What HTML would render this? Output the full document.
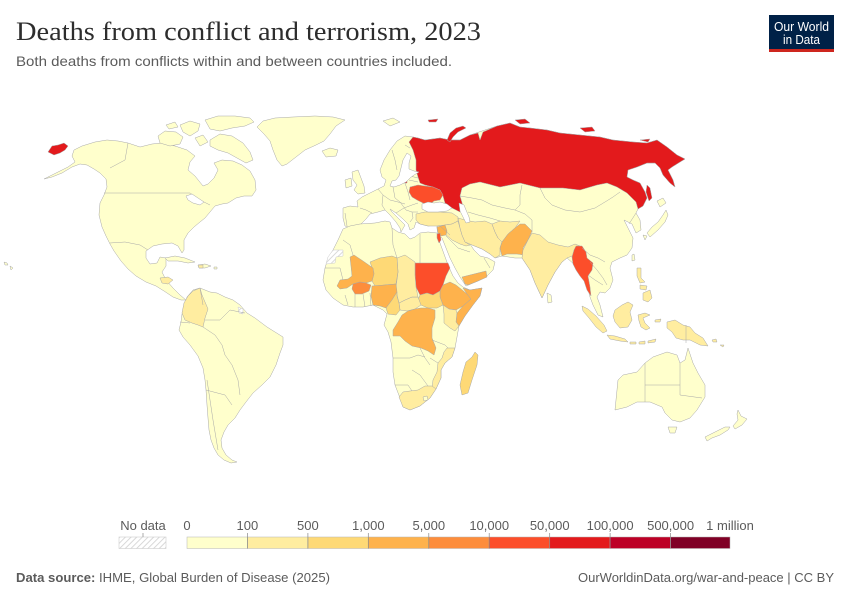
<!DOCTYPE html>
<html><head><meta charset="utf-8"><style>
html,body{margin:0;padding:0;background:#fff;}
body{width:850px;height:600px;overflow:hidden;}
svg{display:block;}
</style></head><body>
<svg width="850" height="600" viewBox="0 0 850 600" xmlns="http://www.w3.org/2000/svg">
<defs>
<pattern id="h" width="4" height="4" patternUnits="userSpaceOnUse" patternTransform="rotate(45)"><rect width="4" height="4" fill="#fff"/><line x1="0" y1="0" x2="0" y2="4" stroke="#cfcfcf" stroke-width="1.6"/></pattern>
</defs>
<rect width="850" height="600" fill="#fff"/>

<!-- Title -->
<text x="16" y="40" font-family="Liberation Serif, serif" font-size="26.5" fill="#2d2d2d" textLength="465" lengthAdjust="spacingAndGlyphs">Deaths from conflict and terrorism, 2023</text>
<text x="16" y="66" font-family="Liberation Sans, sans-serif" font-size="14" fill="#5b5b5b" textLength="436" lengthAdjust="spacingAndGlyphs">Both deaths from conflicts within and between countries included.</text>

<!-- Logo -->
<rect x="769" y="15" width="65" height="35" fill="#002147"/>
<rect x="769" y="49" width="65" height="3" fill="#ce261e"/>
<text x="801.5" y="31" text-anchor="middle" font-family="Liberation Sans, sans-serif" font-size="13" fill="#fff" textLength="55" lengthAdjust="spacingAndGlyphs">Our World</text>
<text x="801.5" y="44" text-anchor="middle" font-family="Liberation Sans, sans-serif" font-size="13" fill="#fff" textLength="37" lengthAdjust="spacingAndGlyphs">in Data</text>

<!-- Base land -->
<g stroke="#a8a8a8" stroke-width="0.5" stroke-linejoin="round" fill="#ffffcc">
<path d="M44,179 L52,175 L60,171 L68,167 L75,162 L72,156 L74,150 L82,146 L95,142 L107,140 L118,141 L128,143 L140,147 L152,144 L162,143 L175,146 L187,150 L195,156 L190,162 L188,170 L195,176 L203,186 L208,184 L214,178 L218,170 L214,163 L222,160 L233,161 L242,165 L250,171 L255,180 L256,190 L252,196 L244,196 L236,198 L228,203 L222,204 L215,206 L210,212 L205,218 L200,222 L194,227 L188,233 L184,240 L184,250 L182,253 L178,246 L172,243 L162,244 L153,246 L146,251 L146,258 L150,264 L157,263 L160,257 L166,258 L166,266 L162,272 L166,280 L173,288 L180,295 L186,300 L181,300 L173,297 L164,291 L156,286 L146,282 L136,276 L128,269 L121,261 L114,251 L110,244 L106,236 L102,227 L99,215 L100,203 L104,195 L107,187 L106,179 L100,173 L94,169 L87,165 L80,164 L72,167 L62,173 L52,177 Z"/>
<path d="M158,136 L165,131 L176,132 L183,137 L180,144 L170,146 L160,143 Z"/>
<path d="M180,125 L190,121 L200,124 L198,131 L190,136 L183,132 Z"/>
<path d="M205,120 L218,116 L235,116 L250,118 L254,122 L245,126 L232,128 L220,131 L210,129 Z"/>
<path d="M210,140 L220,134 L232,136 L243,143 L250,152 L253,160 L246,163 L237,158 L228,153 L218,150 L210,146 Z"/>
<path d="M195,138 L203,135 L208,142 L200,146 Z"/>
<path d="M166,125 L175,122 L178,127 L169,129 Z"/>
<path d="M257,127 L263,121 L275,118 L293,117 L315,116 L333,117 L345,120 L336,126 L330,134 L324,141 L316,145 L305,150 L296,157 L287,164 L282,166 L277,160 L273,150 L270,141 L264,134 Z"/>
<path d="M322,151 L330,148 L338,150 L336,156 L326,157 Z"/>
<path d="M383,121 L393,118 L400,122 L390,126 Z"/>
<path d="M165,258 L175,256 L185,258 L195,262 L188,263 L178,261 L168,261 Z"/>
<path d="M198,265 L205,264 L211,266 L205,268 L199,268 Z"/>
<path d="M214,267 L217,267 L217,269 L214,269 Z"/>
<path d="M4,262 L7,263 L8,265 L5,265 Z M10,266 L13,268 L11,270 Z"/>
<path d="M187,297 L193,290 L200,288 L210,292 L217,293 L225,297 L233,300 L240,305 L247,313 L255,318 L267,327 L283,337 L283,345 L280,353 L276,365 L270,377 L262,385 L253,393 L246,402 L240,410 L235,418 L228,425 L224,432 L221,440 L222,448 L226,455 L232,460 L237,462 L231,463 L224,460 L218,455 L214,448 L211,440 L209,430 L208,418 L207,405 L206,390 L205,380 L203,368 L198,356 L190,345 L183,337 L179,330 L181,322 L182,314 L185,305 Z"/>
<path d="M343,208 L350,206 L358,207 L357,201 L362,197 L370,193 L378,189 L384,186 L386,180 L382,177 L380,170 L384,160 L390,150 L397,141 L405,136 L413,137 L418,138 L425,140 L440,138 L450,140 L460,140 L470,135 L485,130 L497,126 L510,123 L520,127 L530,128 L547,130 L560,133 L580,135 L600,137 L613,140 L633,142 L647,143 L657,140 L667,147 L677,155 L685,159 L680,162 L672,167 L668,170 L673,180 L675,187 L670,183 L663,175 L660,168 L655,163 L647,163 L637,167 L628,170 L627,177 L633,180 L640,183 L645,192 L647,198 L643,206 L638,209 L636,213 L640,220 L641,230 L636,233 L632,224 L628,222 L624,220 L628,228 L633,238 L632,248 L627,255 L620,258 L612,262 L610,268 L613,280 L610,288 L605,293 L600,292 L597,297 L600,305 L603,317 L598,315 L593,305 L590,297 L587,285 L583,275 L575,265 L567,258 L562,262 L555,272 L548,285 L542,298 L535,283 L530,270 L522,258 L515,258 L502,256 L495,258 L490,254 L482,249 L470,244 L474,250 L480,256 L488,258 L495,262 L493,270 L486,277 L478,281 L466,286 L460,277 L455,268 L450,258 L446,248 L442,238 L438,236 L437,228 L437,225 L428,226 L420,224 L416,222 L414,228 L410,230 L408,224 L403,219 L396,213 L390,209 L392,212 L398,218 L405,225 L401,232 L400,228 L396,222 L390,215 L385,210 L378,212 L370,214 L366,219 L360,225 L352,228 L345,226 L343,218 Z"/>
<path d="M352,172 L358,170 L361,178 L364,186 L365,193 L358,194 L354,190 L357,185 L353,180 Z"/>
<path d="M345,180 L351,178 L352,186 L346,188 Z"/>
<path d="M657,201 L663,198 L666,203 L660,207 Z"/>
<path d="M647,233 L652,227 L658,222 L663,215 L666,210 L668,215 L665,222 L658,230 L650,237 Z"/>
<path d="M643,235 L647,236 L645,240 Z"/>
<path d="M632,255 L634,254 L635,260 L632,261 Z"/>
<path d="M547,293 L551,295 L552,302 L548,303 Z"/>
<path d="M343,229 L350,226 L360,224 L375,223 L385,221 L390,222 L392,228 L398,232 L405,234 L410,239 L415,237 L420,233 L428,232 L437,233 L440,243 L444,254 L448,265 L453,276 L458,283 L463,287 L470,290 L482,288 L480,296 L473,305 L465,316 L459,326 L457,337 L455,348 L452,357 L445,363 L441,370 L441,378 L436,389 L430,398 L420,406 L410,410 L403,407 L400,398 L395,385 L393,372 L393,358 L391,342 L388,332 L384,325 L387,314 L383,310 L373,305 L363,307 L353,307 L343,305 L333,298 L326,290 L323,280 L325,268 L328,258 L333,250 L338,240 Z"/>
<path d="M615,410 L617,390 L618,380 L623,375 L637,372 L645,363 L653,357 L667,352 L677,355 L680,363 L685,360 L688,348 L693,363 L698,373 L705,385 L705,397 L697,410 L690,418 L680,422 L672,420 L665,413 L662,407 L650,402 L637,402 L627,407 Z"/>
<path d="M668,427 L677,427 L675,433 L670,433 Z"/>
<path d="M738,410 L741,416 L747,419 L742,425 L735,429 L733,426 L738,420 L737,414 Z"/>
<path d="M730,427 L728,430 L720,435 L712,438 L707,441 L705,437 L715,432 L725,427 Z"/>
</g>

<!-- Colored countries -->
<g stroke="#a8a8a8" stroke-width="0.5" stroke-linejoin="round">
<path fill="#e31a1c" d="M409,142 L413,137 L418,138 L425,140 L440,138 L450,140 L460,140 L470,135 L478,133 L480,140 L483,132 L497,126 L510,123 L520,127 L530,128 L547,130 L560,133 L580,135 L600,137 L613,140 L633,142 L647,143 L657,140 L667,147 L677,155 L685,159 L680,162 L672,167 L668,170 L673,180 L675,187 L670,183 L663,175 L660,168 L655,163 L647,163 L637,167 L628,170 L627,177 L633,180 L640,183 L645,192 L647,198 L643,206 L638,209 L636,202 L627,193 L617,187 L607,183 L597,185 L580,190 L563,188 L540,188 L520,183 L500,187 L480,182 L470,184 L462,188 L460,196 L463,206 L460,212 L452,208 L445,203 L443,196 L440,190 L433,187 L425,185 L420,183 L418,177 L416,170 L416,160 L413,150 Z"/>
<path fill="#e31a1c" d="M447,140 L450,133 L456,128 L463,126 L466,128 L458,132 L453,137 L450,142 Z"/>
<path fill="#e31a1c" d="M515,120 L525,119 L530,123 L520,124 Z"/>
<path fill="#e31a1c" d="M580,128 L592,127 L595,131 L585,132 Z"/>
<path fill="#e31a1c" d="M428,120 L438,119 L436,122 L429,122 Z"/>
<path fill="#e31a1c" d="M640,140 L650,139 L648,142 Z"/>
<path fill="#e31a1c" d="M647,185 L650,188 L652,198 L649,201 L646,192 Z"/>
<path fill="#e31a1c" d="M48,152 L52,146 L58,145 L64,143 L68,146 L65,150 L60,153 L54,155 Z"/>
<path fill="#e31a1c" d="M403,180 L407,180 L407,183 L403,183 Z"/>
<path fill="#fc4e2a" d="M410,187 L418,185 L425,186 L433,187 L440,190 L443,195 L440,200 L434,201 L429,205 L423,203 L417,200 L412,197 L409,192 Z"/>
<path fill="#ffeda0" d="M416,214 L425,212 L440,212 L452,213 L458,217 L458,221 L452,224 L445,225 L437,226 L428,226 L420,224 L416,220 Z"/>
<path fill="#feb24c" d="M437,227 L445,225 L447,231 L446,235 L441,236 L438,233 Z"/>
<path fill="#ffeda0" d="M445,225 L452,224 L458,221 L460,228 L462,235 L465,242 L470,245 L466,246 L460,244 L452,240 L446,235 L447,231 Z"/>
<path fill="#ffeda0" d="M458,218 L465,220 L475,222 L485,221 L492,224 L495,232 L498,238 L502,242 L500,248 L500,255 L495,258 L490,254 L482,249 L472,245 L465,242 L462,235 L460,228 Z"/>
<path fill="#fc4e2a" d="M437,234 L440,233 L441,240 L439,243 L437,238 Z"/>
<path fill="#ffeda0" d="M492,224 L500,221 L510,222 L520,221 L515,228 L508,234 L502,242 L498,238 L495,232 Z"/>
<path fill="#feb24c" d="M502,242 L508,234 L515,228 L520,224 L525,224 L532,231 L528,240 L523,248 L524,255 L517,254 L507,254 L502,256 L500,248 Z"/>
<path fill="#feb24c" d="M462,277 L470,275 L478,273 L486,271 L487,277 L478,281 L468,285 L465,284 Z"/>
<path fill="#ffeda0" d="M523,250 L528,240 L532,233 L540,235 L548,242 L558,245 L568,247 L575,244 L580,246 L578,252 L572,256 L567,258 L562,262 L555,272 L548,285 L542,298 L535,283 L530,270 L522,258 Z"/>
<path fill="#fc4e2a" d="M576,246 L582,246 L586,252 L587,258 L593,263 L592,270 L588,276 L590,287 L591,296 L587,290 L584,281 L580,276 L576,270 L573,264 L572,257 L574,250 Z"/>
<path fill="#ffeda0" d="M582,306 L588,309 L596,316 L604,325 L607,331 L603,333 L596,327 L589,318 L583,311 Z"/>
<path fill="#ffeda0" d="M607,335 L615,336 L625,339 L628,342 L620,341 L610,339 Z"/>
<path fill="#ffeda0" d="M615,310 L622,305 L628,302 L633,305 L630,312 L632,320 L628,327 L620,328 L615,322 L613,316 Z"/>
<path fill="#ffeda0" d="M638,315 L645,313 L650,315 L643,318 L645,323 L650,328 L646,330 L641,327 L639,321 Z"/>
<path fill="#ffeda0" d="M637,268 L641,268 L641,278 L645,282 L640,283 L637,276 Z"/>
<path fill="#ffeda0" d="M643,293 L650,290 L652,298 L648,302 L643,300 Z"/>
<path fill="#ffeda0" d="M640,285 L647,286 L646,290 L640,289 Z"/>
<path fill="#ffeda0" d="M667,322 L675,320 L683,325 L690,327 L695,333 L703,338 L708,346 L700,345 L690,340 L683,340 L676,338 L672,332 L667,328 Z"/>
<path fill="#ffeda0" d="M630,342 L636,342 L636,344 L630,344 Z M639,342 L645,341 L645,344 L639,344 Z M648,341 L656,339 L655,342 L648,343 Z"/>
<path fill="#ffeda0" d="M655,320 L661,319 L660,322 L655,322 Z M712,340 L716,339 L717,342 L713,342 Z M720,345 L724,345 L723,347 Z"/>
<path fill="#fc4e2a" d="M415,263 L448,263 L450,268 L446,276 L443,285 L440,291 L433,295 L427,293 L420,295 L416,287 L415,275 Z"/>
<path fill="#feb24c" d="M443,285 L450,282 L456,285 L461,289 L467,294 L471,299 L463,306 L456,310 L449,309 L443,305 L440,297 L440,291 Z"/>
<path fill="#feb24c" d="M463,288 L470,290 L482,288 L480,296 L473,305 L465,316 L459,326 L456,322 L457,313 L463,306 L471,299 L467,294 Z"/>
<path fill="#ffeda0" d="M443,305 L449,309 L456,310 L457,313 L456,322 L459,326 L455,331 L450,328 L444,323 L444,314 Z"/>
<path fill="#fed976" d="M420,295 L427,293 L433,295 L440,291 L440,297 L443,305 L437,308 L428,308 L421,305 L418,300 Z"/>
<path fill="#ffeda0" d="M399,303 L405,300 L412,297 L418,297 L421,305 L415,309 L407,311 L400,310 Z"/>
<path fill="#ffeda0" d="M397,258 L405,255 L415,262 L415,275 L416,287 L418,297 L412,297 L405,300 L399,303 L397,295 L396,287 L398,272 Z"/>
<path fill="#fed976" d="M370,262 L380,258 L392,256 L397,258 L398,272 L396,284 L385,285 L375,286 L372,281 L374,273 Z"/>
<path fill="#feb24c" d="M372,286 L385,285 L396,284 L397,292 L392,300 L386,308 L380,306 L373,305 L371,296 Z"/>
<path fill="#fed976" d="M392,300 L397,292 L397,296 L399,303 L400,310 L396,315 L388,314 L386,308 Z"/>
<path fill="#feb24c" d="M337,286 L340,280 L348,279 L352,276 L351,266 L350,257 L354,255 L363,261 L373,268 L374,274 L372,281 L366,283 L360,282 L353,284 L347,288 L340,289 Z"/>
<path fill="#fd8d3c" d="M353,284 L360,282 L366,283 L371,285 L369,291 L362,294 L355,294 L352,289 Z"/>
<path fill="#feb24c" d="M393,330 L398,322 L402,315 L408,311 L415,309 L421,308 L428,308 L435,310 L435,318 L432,328 L432,338 L436,348 L434,355 L428,351 L421,348 L412,346 L405,341 L400,336 L393,336 Z"/>
<path fill="#ffeda0" d="M447,348 L455,348 L452,357 L445,363 L441,370 L441,378 L436,389 L432,389 L433,380 L437,372 L438,363 L442,358 L444,352 Z"/>
<path fill="#ffeda0" d="M399,397 L403,392 L410,391 L418,390 L425,386 L432,386 L436,389 L430,398 L420,406 L410,410 L403,407 Z"/>
<path fill="#ffffcc" d="M423,397 L427,396 L428,400 L424,401 Z"/>
<path fill="#fed976" d="M475,352 L478,355 L477,365 L472,380 L468,393 L462,395 L460,385 L463,372 L466,362 L472,357 Z"/>
<path fill="url(#h)" stroke="#ccc" d="M328,257 L333,250 L343,250 L343,256 L336,257 L335,263 L326,264 Z"/>
<path fill="#ffeda0" d="M184,303 L188,296 L193,291 L200,288 L202,295 L205,302 L208,309 L205,318 L203,327 L198,325 L192,323 L185,320 L182,313 Z"/>
<path fill="#ffeda0" d="M198,265 L203,265 L203,268 L199,268 Z"/>
<path fill="#ffeda0" d="M160,278 L168,277 L173,280 L168,284 L162,283 Z"/>
<path fill="url(#h)" stroke="#ccc" d="M238,307 L243,309 L243,314 L239,313 Z"/>
</g>

<!-- Internal borders -->
<path fill="none" stroke="#a8a8a8" stroke-width="0.5" d="
M392,150 L395,160 L397,170 M405,145 L410,148
M378,189 L383,195 L382,205 L385,210 M360,208 L366,210 L372,213 M345,213 L347,226
M393,187 L395,198 L400,202 M383,195 L390,200 L398,202 L405,204
M405,183 L408,192 L410,200 M400,202 L406,210 L412,212 L418,212
M396,213 L404,208 L412,205 L418,203 M412,212 L413,218 L410,222
M410,176 L418,178 M409,180 L418,182
M460,196 L472,198 L482,200 L492,205 L505,208 L515,210 L520,205 L520,195 L522,185
M468,212 L478,215 L490,218 L500,221 M515,210 L525,214 L532,220 L532,232
M540,188 L545,198 L552,205 L565,210 L580,212 L595,208 L605,202 L613,197 L620,192
M582,248 L590,255 L598,258 L605,262 M590,262 L597,270 L603,278 L607,285 M588,275 L595,280 L603,285
M440,226 L450,235 M446,236 L458,248 L470,252 M484,258 L490,268
M629,224 L636,213
M343,240 L350,245 L353,255 M392,228 L393,245 L397,258 M420,234 L420,263
M325,268 L340,268 L343,280 M345,295 L348,305 M355,294 L355,307 M363,294 L365,307 M370,293 L371,306
M393,358 L410,358 L418,355 L425,357 M395,385 L408,385 L412,391 M412,370 L420,375 L428,386
M432,340 L445,345 L448,348 M430,358 L438,363 M420,348 L425,358 L430,365
M104,193 L190,193 L200,200 L210,205 M128,143 L125,160 L110,168
M110,243 L125,242 L140,245 L148,250
M200,288 L203,305 M205,320 L220,320 L230,310 L245,313
M203,327 L215,335 L222,345 L225,355 L232,365 L238,380 L240,395
M207,380 L213,420 L218,450 M180,322 L190,323 M206,390 L225,395 L232,405
M645,363 L645,402 M645,385 L680,385 M680,363 L680,395 L702,398
M686,325 L686,343"/>

<!-- Water -->
<g fill="#fff" stroke="#a8a8a8" stroke-width="0.5" stroke-linejoin="round">
<path d="M390,186 L392,181 L396,180 L399,176 L401,168 L403,160 L407,153 L411,156 L409,163 L409,169 L414,171 L419,172 L414,175 L410,178 L406,182 L400,185 L394,187 Z"/>
<path d="M422,204 L428,202 L434,203 L440,202 L447,204 L452,208 L447,211 L438,212 L428,212 L422,209 Z"/>
<path d="M459,203 L464,205 L466,210 L469,217 L470,222 L466,223 L463,217 L460,211 Z"/>
<path d="M186,196 L192,194 L198,198 L204,202 L200,205 L193,203 L188,200 Z"/>
</g>

<!-- Legend -->
<g font-family="Liberation Sans, sans-serif" font-size="13" fill="#5b5b5b" text-anchor="middle">
<text x="143" y="530">No data</text>
<text x="187" y="530">0</text>
<text x="247.4" y="530">100</text>
<text x="307.9" y="530">500</text>
<text x="368.3" y="530">1,000</text>
<text x="428.8" y="530">5,000</text>
<text x="489.2" y="530">10,000</text>
<text x="549.7" y="530">50,000</text>
<text x="610.1" y="530">100,000</text>
<text x="670.6" y="530">500,000</text>
<text x="730" y="530">1 million</text>
</g>
<rect x="119" y="537" width="47" height="11.5" fill="url(#h)" stroke="#ccc" stroke-width="0.6"/>
<g stroke="#b5b5b5" stroke-width="0.5">
<rect x="187" y="537" width="60.4" height="11.5" fill="#ffffcc"/>
<rect x="247.4" y="537" width="60.5" height="11.5" fill="#ffeda0"/>
<rect x="307.9" y="537" width="60.4" height="11.5" fill="#fed976"/>
<rect x="368.3" y="537" width="60.5" height="11.5" fill="#feb24c"/>
<rect x="428.8" y="537" width="60.4" height="11.5" fill="#fd8d3c"/>
<rect x="489.2" y="537" width="60.5" height="11.5" fill="#fc4e2a"/>
<rect x="549.7" y="537" width="60.4" height="11.5" fill="#e31a1c"/>
<rect x="610.1" y="537" width="60.5" height="11.5" fill="#bd0026"/>
<rect x="670.6" y="537" width="59.4" height="11.5" fill="#800026"/>
</g>
<path stroke="#888" stroke-width="0.7" d="M247.4,533 V548.5 M307.9,533 V548.5 M368.3,533 V548.5 M428.8,533 V548.5 M489.2,533 V548.5 M549.7,533 V548.5 M610.1,533 V548.5 M670.6,533 V548.5 M143,533 V537"/>

<!-- Footer -->
<text x="16" y="582" font-family="Liberation Sans, sans-serif" font-size="13" fill="#5b5b5b" textLength="314" lengthAdjust="spacingAndGlyphs"><tspan font-weight="bold">Data source:</tspan> IHME, Global Burden of Disease (2025)</text>
<text x="834" y="582" text-anchor="end" font-family="Liberation Sans, sans-serif" font-size="13" fill="#5b5b5b" textLength="256" lengthAdjust="spacingAndGlyphs">OurWorldinData.org/war-and-peace | CC BY</text>
</svg>
</body></html>
